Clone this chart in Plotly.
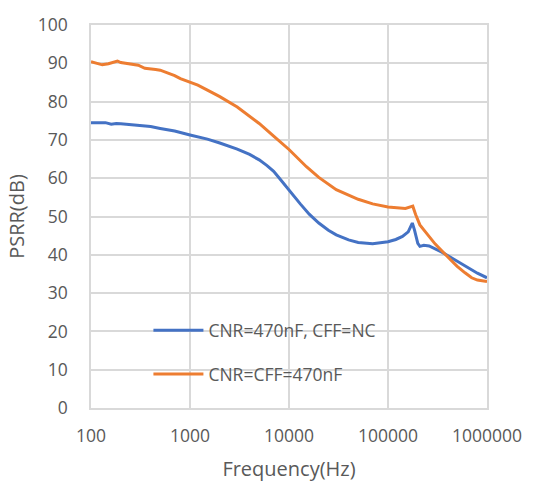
import plotly.graph_objects as go

freq_blue = [100, 120, 140, 160, 180, 200, 250, 300, 400, 500, 700, 1000, 1500, 2000, 3000, 4000,
             5000, 6000, 7000, 8000, 10000, 13000, 16000, 20000, 25000, 30000, 40000, 50000, 70000,
             100000, 120000, 140000, 160000, 170000, 176000, 185000, 200000, 210000, 230000, 260000,
             300000, 350000, 400000, 500000, 600000, 700000, 800000, 1000000]
psrr_blue = [74.5, 74.4, 74.5, 74.1, 74.3, 74.2, 74.0, 73.8, 73.5, 73.0, 72.3, 71.3, 70.2, 69.2, 67.6, 66.2,
             64.8, 63.3, 61.8, 60.0, 56.8, 53.3, 50.6, 48.3, 46.4, 45.2, 43.9, 43.2, 42.9,
             43.4, 44.0, 44.8, 46.0, 47.5, 48.3, 46.5, 43.0, 42.2, 42.5, 42.3,
             41.6, 40.7, 39.8, 38.3, 37.0, 36.0, 35.2, 34.0]

freq_orange = [100, 110, 120, 130, 150, 170, 185, 200, 230, 260, 300, 350, 400, 450, 500, 600, 700, 800,
               1000, 1200, 1500, 2000, 3000, 4000, 5000, 7000, 10000, 15000, 20000, 30000, 50000, 70000,
               100000, 150000, 170000, 178000, 190000, 210000, 230000, 300000, 400000, 500000, 600000,
               700000, 800000, 1000000]
psrr_orange = [90.4, 90.1, 89.8, 89.6, 89.9, 90.4, 90.6, 90.2, 89.9, 89.7, 89.5, 88.7, 88.6, 88.4, 88.2, 87.5, 86.8, 86.0,
               85.0, 84.3, 83.0, 81.3, 78.6, 76.2, 74.3, 71.0, 67.5, 63.0, 60.2, 57.0, 54.5, 53.3,
               52.5, 52.1, 52.6, 52.7, 50.5, 47.8, 46.5, 42.8, 39.5, 37.0, 35.3,
               34.0, 33.4, 33.0]

x_ticks = [100, 1000, 10000, 100000, 1000000]
x_tick_labels = ["100", "1000", "10000", "100000", "1000000"]

name_blue = "CNR=470nF, CFF=NC"
name_orange = "CNR=CFF=470nF"

FONT = "Open Sans"
GREY = "#595959"

fig = go.Figure()
fig.add_trace(go.Scatter(x=freq_blue, y=psrr_blue, mode="lines", name=name_blue,
                         legendgroup="a", line=dict(color="#4472C4", width=3)))
fig.add_trace(go.Scatter(x=freq_orange, y=psrr_orange, mode="lines", name=name_orange,
                         legendgroup="b", line=dict(color="#ED7D31", width=3)))

fig.update_layout(
    width=535, height=489,
    margin=dict(l=91, r=48, t=12, b=81),
    paper_bgcolor="white", plot_bgcolor="white",
    font=dict(family=FONT, size=17, color=GREY),
    legend=dict(x=0.145, y=0.25, xanchor="left", yanchor="top",
                bgcolor="rgba(0,0,0,0)", tracegroupgap=18, traceorder="grouped",
                itemwidth=50,
                font=dict(family=FONT, size=17.5, color=GREY)),
    xaxis=dict(type="log", range=[2, 6], tickvals=x_ticks, ticktext=x_tick_labels,
               showgrid=True, gridcolor="#d9d9d9", gridwidth=1.5,
               showline=True, linecolor="#d9d9d9", linewidth=1.5, mirror=True,
               ticks="", ticklabelstandoff=11, tickfont=dict(size=17.5),
               title=dict(text="Frequency(Hz)", font=dict(size=20, color=GREY), standoff=16),
               zeroline=False),
    yaxis=dict(range=[0, 100], dtick=10, showgrid=True, gridcolor="#d9d9d9", gridwidth=1.5,
               showline=True, linecolor="#d9d9d9", linewidth=1.5, mirror=True,
               ticks="", ticklabelstandoff=18, tickfont=dict(size=17.5),
               title=dict(text="PSRR(dB)", font=dict(size=20, color=GREY), standoff=8),
               zeroline=False),
)

fig.write_html("out.html")
